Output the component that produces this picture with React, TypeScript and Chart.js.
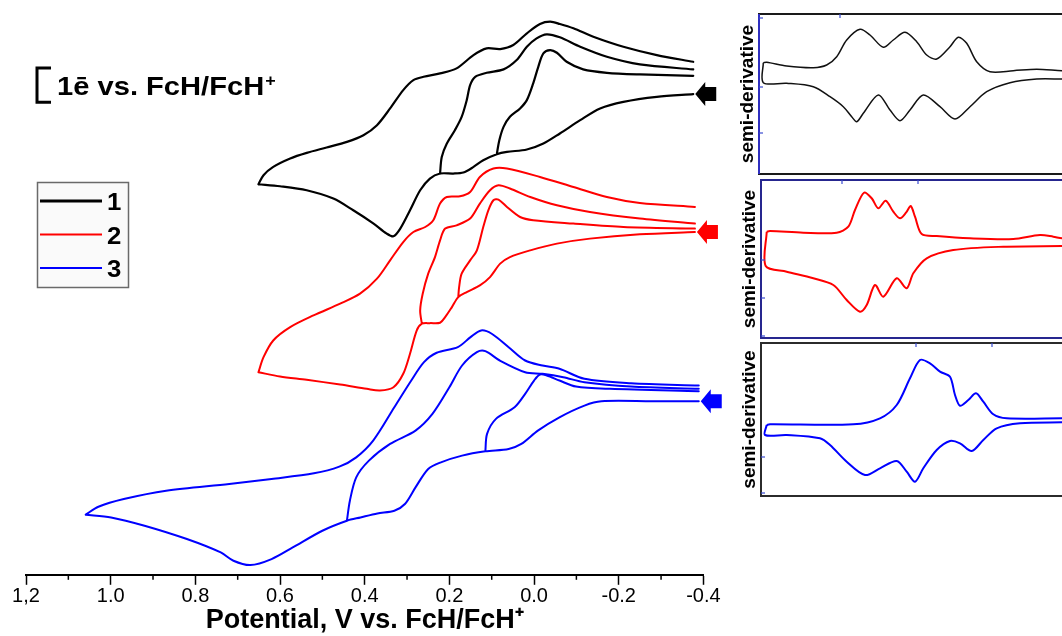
import React, { useEffect, useRef } from "react";
import { Chart, registerables } from "chart.js";
Chart.register(...registerables);

type P = [number, number];
const FONT = "'Liberation Sans', Arial, Helvetica, sans-serif";

// ---------- Cyclic voltammograms: [potential / V vs FcH/FcH+, current (arb. units, offset)] ----------
const cv1Forward: P[] = [[-0.376,48.0],[-0.290,47.73],[-0.211,47.23],[-0.156,46.57],[-0.109,45.4],[-0.061,44.07],[-0.022,43.07],[0.017,42.47],[0.064,42.23],[0.088,42.0],[0.120,41.4],[0.143,40.73],[0.167,40.17],[0.191,40.07],[0.222,40.07],[0.246,39.57],[0.269,38.4],[0.293,36.4],[0.316,34.57],[0.332,33.8],[0.348,34.07],[0.379,35.07],[0.427,36.4],[0.474,37.57],[0.537,38.4],[0.600,38.8],[0.651,39.0]];
const cv1Reverse: P[] = [[0.651,39.0],[0.639,39.9],[0.616,40.73],[0.576,41.57],[0.537,42.13],[0.490,42.67],[0.442,43.23],[0.403,43.9],[0.371,44.9],[0.340,46.57],[0.309,48.4],[0.285,49.4],[0.261,49.73],[0.222,50.07],[0.183,50.57],[0.143,51.9],[0.112,52.57],[0.080,52.5],[0.049,52.9],[0.017,54.07],[-0.014,55.0],[-0.038,55.23],[-0.061,55.0],[-0.093,54.57],[-0.140,53.73],[-0.211,52.73],[-0.290,51.9],[-0.376,51.23]];
const cv1ReverseMid: P[] = [[0.222,40.07],[0.218,41.73],[0.206,43.07],[0.187,44.4],[0.171,45.73],[0.159,47.4],[0.151,48.9],[0.139,49.73],[0.112,50.13],[0.072,50.47],[0.041,51.4],[0.017,52.73],[-0.006,53.57],[-0.030,53.97],[-0.061,53.67],[-0.109,52.73],[-0.172,51.73],[-0.250,50.97],[-0.376,50.47]];
const cv1ReverseLow: P[] = [[0.088,42.0],[0.082,43.4],[0.072,44.73],[0.057,45.73],[0.033,46.57],[0.017,47.4],[0.002,49.07],[-0.010,50.73],[-0.022,52.07],[-0.038,52.4],[-0.054,52.13],[-0.077,51.23],[-0.116,50.47],[-0.172,50.13],[-0.250,49.97],[-0.376,49.83]];

const cv2Forward: P[] = [[-0.380,34.23],[-0.250,34.0],[-0.132,33.57],[-0.054,33.07],[0.009,32.4],[0.057,31.73],[0.080,31.07],[0.104,29.73],[0.128,28.9],[0.159,28.23],[0.179,27.73],[0.194,26.73],[0.210,25.73],[0.222,25.17],[0.246,25.13],[0.265,25.07],[0.277,24.4],[0.293,22.07],[0.309,20.07],[0.332,18.73],[0.364,18.4],[0.395,18.57],[0.458,19.0],[0.537,19.47],[0.600,19.8],[0.651,20.23]];
const cv2Reverse: P[] = [[0.651,20.23],[0.639,21.73],[0.616,23.4],[0.576,24.73],[0.521,25.9],[0.458,27.07],[0.411,28.07],[0.371,29.57],[0.340,31.4],[0.309,33.23],[0.285,34.23],[0.257,34.73],[0.238,35.4],[0.222,37.07],[0.206,37.73],[0.175,37.8],[0.151,38.23],[0.128,39.73],[0.096,40.57],[0.064,40.57],[-0.014,39.73],[-0.093,38.73],[-0.172,37.73],[-0.250,37.13],[-0.380,36.73]];
const cv2ReverseMid: P[] = [[0.265,25.07],[0.269,26.4],[0.263,28.07],[0.250,30.07],[0.234,31.73],[0.222,33.4],[0.210,34.57],[0.183,34.9],[0.151,35.57],[0.128,37.07],[0.104,38.4],[0.084,38.9],[0.057,38.57],[0.009,37.73],[-0.054,36.9],[-0.132,36.23],[-0.250,35.57],[-0.380,35.07]];
const cv2ReverseLow: P[] = [[0.179,27.73],[0.177,28.73],[0.171,30.07],[0.151,31.4],[0.135,32.4],[0.120,34.73],[0.108,36.4],[0.096,37.4],[0.084,37.47],[0.064,36.73],[0.033,35.73],[0.002,35.4],[-0.093,35.07],[-0.211,34.73],[-0.380,34.57]];

const cv3Forward: P[] = [[-0.389,17.33],[-0.279,17.33],[-0.159,17.33],[-0.119,16.9],[-0.060,15.73],[-0.009,14.4],[0.030,13.07],[0.060,12.57],[0.115,12.33],[0.170,11.9],[0.220,11.23],[0.250,10.57],[0.280,8.73],[0.305,7.07],[0.330,6.4],[0.370,6.13],[0.410,5.73],[0.442,5.4],[0.500,4.4],[0.570,2.73],[0.620,1.57],[0.670,0.97],[0.710,1.4],[0.740,2.23],[0.820,3.57],[0.920,4.9],[0.999,5.73],[1.059,6.0]];
const cv3Reverse: P[] = [[1.059,6.0],[1.029,6.8],[0.969,7.57],[0.869,8.4],[0.720,9.07],[0.620,9.57],[0.520,10.13],[0.460,10.8],[0.420,11.73],[0.380,13.4],[0.330,16.73],[0.290,19.4],[0.260,21.23],[0.230,22.17],[0.180,22.73],[0.150,23.73],[0.125,24.4],[0.100,24.07],[0.060,22.73],[0.021,21.4],[-0.020,20.9],[-0.060,20.57],[-0.119,19.57],[-0.229,19.13],[-0.389,18.9]];
const cv3ReverseMid: P[] = [[0.442,5.4],[0.435,7.4],[0.420,9.73],[0.390,11.4],[0.340,13.07],[0.280,14.4],[0.240,16.07],[0.200,18.73],[0.170,20.9],[0.135,22.23],[0.115,22.33],[0.081,21.4],[0.021,20.23],[-0.020,20.07],[-0.069,19.73],[-0.119,19.23],[-0.229,18.8],[-0.389,18.57]];
const cv3ReverseLow: P[] = [[0.115,12.33],[0.111,14.07],[0.090,15.57],[0.046,16.73],[0.021,18.07],[0.000,19.4],[-0.014,20.0],[-0.030,19.9],[-0.060,19.4],[-0.099,18.8],[-0.179,18.57],[-0.389,18.33]];

const seriesLabels = ["1", "2", "3"];
const seriesColors = ["#000000", "#ff0000", "#0000ff"];

// axis
const X_MIN = -0.4;
const X_MAX = 1.2;
const MAJOR_STEP = 0.2;
const MINOR_TICKS = [-0.3, -0.1, 0.1, 0.3, 0.5, 0.7, 0.9, 1.1];
const Y_MIN = 0;
const Y_MAX = 56.4;
const X_TITLE = "Potential, V vs. FcH/FcH\u207A";

// scale bar: current corresponding to one electron
const SCALE_BAR: P = [47.2, 50.6];
const SCALE_BAR_X = 1.174;
const SCALE_LABEL = "1\u0113 vs. FcH/FcH";

// ---------- Semi-derivative insets: [potential (arb. index), semi-derivative (arb.)] ----------
const sd1Upper: P[] = [[4.3,111.3],[7.7,111.7],[27.7,108],[54.3,106.3],[67.7,109],[77.7,117.3],[87.7,134],[101,144.7],[111,139],[124.3,126.7],[134.3,134],[146,141.7],[157.7,132.3],[167.7,119],[177.7,115],[191,127.3],[199.3,136.7],[207.7,130.7],[217.7,112.3],[231,102.3],[254.3,103.3],[277.7,104.7],[303,103.3],[326,103]];
const sd1Lower: P[] = [[4.3,91.3],[27.7,90.7],[54.3,87.3],[71,77.3],[84.3,67.3],[92.7,57.3],[97.7,52.3],[104.3,60.7],[119.3,79],[131,64],[141,53.3],[151,64],[164.3,79],[181,67.3],[196,55],[211,67.3],[227.7,82.3],[251,91.3],[277.7,95],[303,95],[326,95]];
const sd2Upper: P[] = [[5.7,106.3],[9,107],[42.3,105.3],[75.7,105.3],[87.3,111.3],[94,128],[103,145.3],[110.7,139.7],[117.3,129.7],[124.7,137.3],[132.3,126.3],[139,119.7],[145,125.3],[149.7,132],[154,121.3],[160.7,104],[175.7,102],[209,99.7],[252.3,99],[279,103],[292.3,101.3],[301,99.7],[324,98]];
const sd2Lower: P[] = [[4.7,72],[25.7,66.3],[52.3,59.7],[72.3,53],[85.7,38],[99,26.3],[105.7,33],[114,53],[122.3,41.3],[135.7,59.7],[145.7,49.7],[152.3,64.7],[165.7,79.7],[192.3,88],[242.3,91.3],[301,92],[324,92.3]];
const sd3Upper: P[] = [[5.7,71],[9,71.7],[92.3,71.7],[119,77.7],[135.7,91],[149,117.7],[159,136],[169,132.7],[179,124.3],[189,119.3],[194,101],[199,90.3],[207.3,96],[215,102.7],[222.3,94.3],[232.3,81.7],[245.7,77.7],[301,77.7],[324,77.7]];
const sd3Lower: P[] = [[4,61],[25.7,61],[59,57.7],[69,51],[85.7,34.3],[104,21],[119,27.7],[135.7,35],[145.7,24.3],[154,14.3],[162.3,27.7],[175.7,46],[189,55],[199,52.7],[210.7,45],[222.3,56],[235.7,67.7],[259,72.7],[301,73.7],[324,74]];
const SD_TITLE = "semi-derivative";

function segmentsToXY(segs: P[][]) {
  const out: any[] = [];
  segs.forEach((s, i) => {
    if (i > 0) out.push({ x: s[0][0], y: null });
    s.forEach(([x, y]) => out.push({ x, y }));
  });
  return out;
}

const cvDecor = {
  id: "cvDecor",
  afterDatasetsDraw(chart: any) {
    const { ctx, chartArea, scales } = chart;
    const xs = scales.x, ys = scales.y;
    ctx.save();
    // minor ticks
    ctx.strokeStyle = "#000";
    ctx.lineWidth = 1.5;
    MINOR_TICKS.forEach((v) => {
      const px = xs.getPixelForValue(v);
      ctx.beginPath();
      ctx.moveTo(px, chartArea.bottom);
      ctx.lineTo(px, chartArea.bottom + 5);
      ctx.stroke();
    });
    // start arrows
    chart.data.datasets.forEach((ds: any) => {
      const p0 = ds.data[0];
      const tx = xs.getPixelForValue(p0.x) + 2;
      const ty = ys.getPixelForValue(p0.y);
      ctx.fillStyle = ds.borderColor;
      ctx.beginPath();
      ctx.moveTo(tx, ty);
      ctx.lineTo(tx + 10, ty - 12);
      ctx.lineTo(tx + 10, ty - 7);
      ctx.lineTo(tx + 21, ty - 7);
      ctx.lineTo(tx + 21, ty + 7);
      ctx.lineTo(tx + 10, ty + 7);
      ctx.lineTo(tx + 10, ty + 12);
      ctx.closePath();
      ctx.fill();
    });
    // scale bar
    const bx = xs.getPixelForValue(SCALE_BAR_X);
    const yTop = ys.getPixelForValue(SCALE_BAR[1]);
    const yBot = ys.getPixelForValue(SCALE_BAR[0]);
    ctx.strokeStyle = "#000";
    ctx.lineWidth = 3;
    ctx.lineJoin = "miter";
    ctx.beginPath();
    ctx.moveTo(bx + 14, yTop);
    ctx.lineTo(bx, yTop);
    ctx.lineTo(bx, yBot);
    ctx.lineTo(bx + 14, yBot);
    ctx.stroke();
    ctx.fillStyle = "#000";
    ctx.textBaseline = "alphabetic";
    ctx.textAlign = "left";
    ctx.save();
    ctx.translate(bx + 20, yBot - 7);
    ctx.scale(1.12, 1);
    ctx.font = `bold 26px ${FONT}`;
    ctx.fillText(SCALE_LABEL, 0, 0);
    const w = ctx.measureText(SCALE_LABEL).width;
    ctx.font = `bold 16px ${FONT}`;
    ctx.fillText("+", w + 1, -9);
    ctx.restore();
    // legend box
    const lx = 37.5, ly = 182.5, lw = 91, lh = 105;
    ctx.fillStyle = "#fafafa";
    ctx.fillRect(lx, ly, lw, lh);
    ctx.strokeStyle = "#6a6a6a";
    ctx.lineWidth = 1.5;
    ctx.strokeRect(lx, ly, lw, lh);
    const rows = [201, 234.5, 268];
    const widths = [3, 2, 2];
    chart.data.datasets.forEach((ds: any, i: number) => {
      ctx.strokeStyle = ds.borderColor;
      ctx.lineWidth = widths[i];
      ctx.beginPath();
      ctx.moveTo(40, rows[i]);
      ctx.lineTo(102, rows[i]);
      ctx.stroke();
      ctx.save();
      ctx.translate(107, rows[i] + 9);
      ctx.scale(1.12, 1);
      ctx.fillStyle = "#000";
      ctx.font = `bold 23px ${FONT}`;
      ctx.fillText(ds.label, 0, 0);
      ctx.restore();
    });
    ctx.restore();
  },
};

function mainConfig(): any {
  const groups = [
    [cv1Forward, cv1Reverse, cv1ReverseMid, cv1ReverseLow],
    [cv2Forward, cv2Reverse, cv2ReverseMid, cv2ReverseLow],
    [cv3Forward, cv3Reverse, cv3ReverseMid, cv3ReverseLow],
  ];
  return {
    type: "line",
    data: {
      datasets: groups.map((g, i) => ({
        label: seriesLabels[i],
        data: segmentsToXY(g),
        borderColor: seriesColors[i],
        backgroundColor: seriesColors[i],
        borderWidth: i === 0 ? 2.2 : 2,
        pointRadius: 0,
        tension: 0.3,
        fill: false,
        spanGaps: false,
        borderCapStyle: "round",
        borderJoinStyle: "round",
      })),
    },
    options: {
      animation: false,
      responsive: false,
      maintainAspectRatio: false,
      devicePixelRatio: 1,
      layout: { padding: { left: 26, right: 41.6, top: 10, bottom: 0 } },
      plugins: { legend: { display: false }, tooltip: { enabled: false } },
      scales: {
        x: {
          type: "linear",
          position: "bottom",
          reverse: true,
          min: X_MIN,
          max: X_MAX,
          ticks: {
            stepSize: MAJOR_STEP,
            padding: 0,
            color: "#000",
            maxRotation: 0,
            autoSkip: false,
            font: { family: FONT, size: 20 },
            callback: (v: number) => {
              if (Math.abs(v - 1.2) < 1e-6) return "1,2";
              if (Math.abs(v) < 1e-9) return "0.0";
              return Number(v).toFixed(1);
            },
          },
          grid: { display: true, drawOnChartArea: false, drawTicks: true, tickLength: 10, tickColor: "#000", tickWidth: 1.5 },
          border: { display: true, color: "#000", width: 2 },
          title: {
            display: true,
            text: X_TITLE,
            color: "#000",
            font: { family: FONT, size: 27, weight: "bold", lineHeight: 1 },
            padding: { top: -1.8, bottom: 2 },
          },
        },
        y: { type: "linear", display: false, min: Y_MIN, max: Y_MAX },
      },
    },
    plugins: [cvDecor],
  };
}

function panelConfig(upper: P[], lower: P[], color: string, width: number, padLeft: number, xMax: number, yMax: number, frame: string, leftFrame: string, leftTicks: number[], topTicks: number[]): any {
  const loop: P[] = [...upper, ...lower.slice().reverse(), upper[0]];
  const frameBox = {
    id: "frameBox",
    afterDatasetsDraw(chart: any) {
      const { ctx, chartArea: a, scales } = chart;
      ctx.save();
      ctx.lineWidth = 2;
      ctx.strokeStyle = frame;
      ctx.strokeRect(a.left, a.top, a.right - a.left, a.bottom - a.top);
      ctx.strokeStyle = leftFrame;
      ctx.beginPath();
      ctx.moveTo(a.left, a.top);
      ctx.lineTo(a.left, a.bottom);
      ctx.stroke();
      ctx.strokeStyle = "#3a4bd0";
      ctx.lineWidth = 1.2;
      leftTicks.forEach((v) => {
        const py = scales.y.getPixelForValue(v);
        ctx.beginPath();
        ctx.moveTo(a.left, py);
        ctx.lineTo(a.left + 4, py);
        ctx.stroke();
      });
      topTicks.forEach((v) => {
        const px = scales.x.getPixelForValue(v);
        ctx.beginPath();
        ctx.moveTo(px, a.top);
        ctx.lineTo(px, a.top + 4);
        ctx.stroke();
      });
      ctx.restore();
    },
  };
  return {
    type: "line",
    data: {
      datasets: [
        {
          data: loop.map(([x, y]) => ({ x, y })),
          borderColor: color,
          borderWidth: width,
          pointRadius: 0,
          tension: 0.3,
          fill: false,
          borderJoinStyle: "round",
        },
      ],
    },
    options: {
      animation: false,
      responsive: false,
      maintainAspectRatio: false,
      devicePixelRatio: 1,
      layout: { padding: { left: padLeft, right: 5, top: 4, bottom: 4 } },
      plugins: { legend: { display: false }, tooltip: { enabled: false } },
      scales: {
        x: { type: "linear", display: false, min: 0, max: xMax },
        y: {
          type: "linear",
          display: true,
          min: 0,
          max: yMax,
          ticks: { display: false },
          grid: { display: false, drawTicks: false },
          border: { display: false },
          title: {
            display: true,
            text: SD_TITLE,
            color: "#000",
            font: { family: FONT, size: 19, weight: "bold", lineHeight: 1.2 },
            padding: { top: 4, bottom: 0 },
          },
        },
      },
    },
    plugins: [frameBox],
  };
}

export default function App() {
  const mainRef = useRef<HTMLCanvasElement>(null);
  const p1Ref = useRef<HTMLCanvasElement>(null);
  const p2Ref = useRef<HTMLCanvasElement>(null);
  const p3Ref = useRef<HTMLCanvasElement>(null);

  useEffect(() => {
    const charts: Chart[] = [];
    charts.push(new Chart(mainRef.current as HTMLCanvasElement, mainConfig()));
    charts.push(new Chart(p1Ref.current as HTMLCanvasElement, panelConfig(sd1Upper, sd1Lower, "#111111", 1.5, 12.2, 326, 160, "#1a1a1a", "#2f2fc0", [156, 87, 41], [81])));
    charts.push(new Chart(p2Ref.current as HTMLCanvasElement, panelConfig(sd2Upper, sd2Lower, "#ff0000", 2, 14.2, 324, 158, "#26268f", "#26268f", [78, 40, 2], [81, 157])));
    charts.push(new Chart(p3Ref.current as HTMLCanvasElement, panelConfig(sd3Upper, sd3Lower, "#0000ff", 2, 14.2, 324, 153, "#2b2b2b", "#2b2b2b", [39, 3], [155, 231])));
    return () => charts.forEach((c) => c.destroy());
  }, []);

  const abs = (left: number, top: number, w: number, h: number): React.CSSProperties => ({ position: "absolute", left, top, width: w, height: h });

  return (
    <div style={{ position: "fixed", left: 0, top: 0, width: 1062, height: 636, overflow: "hidden", background: "#fff" }}>
      <canvas ref={mainRef} width={745} height={636} style={abs(0, 0, 745, 636)} />
      <canvas ref={p1Ref} width={370} height={168} style={abs(720, 10, 370, 168)} />
      <canvas ref={p2Ref} width={370} height={166} style={abs(720, 176, 370, 166)} />
      <canvas ref={p3Ref} width={370} height={161} style={abs(720, 339, 370, 161)} />
    </div>
  );
}
